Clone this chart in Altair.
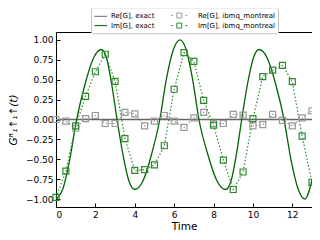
import altair as alt
import pandas as pd

# exact Im[G] curve
t_exact = [0.0, 0.35, 0.7, 1.05, 1.47, 1.9, 2.3, 2.57, 2.83, 3.1, 3.4, 3.7, 4.0,
           4.42, 4.85, 5.27, 5.6, 5.95, 6.29, 6.62, 6.94, 7.26, 7.71, 8.17, 8.62,
           8.89, 9.16, 9.43, 9.72, 10.02, 10.31, 10.73, 11.16, 11.58, 11.93, 12.29,
           12.64, 13.0]
im_exact = [-1.0, -0.87, -0.5, 0.0, 0.44, 0.77, 0.88, 0.77, 0.44, 0.0, -0.44, -0.77, -0.88,
            -0.77, -0.44, 0.0, 0.5, 0.87, 1.0, 0.87, 0.5, 0.0, -0.44, -0.77, -0.88,
            -0.77, -0.44, 0.0, 0.44, 0.77, 0.88, 0.77, 0.44, 0.0, -0.5, -0.87,
            -1.0, -0.76]
t_re_exact = [0.0, 13.0]
re_exact = [0.0, 0.0]

# ibmq_montreal measurements
t_meas = [0.0, 0.5, 1.0, 1.5, 2.0, 2.5, 3.0, 3.5, 4.0, 4.5, 5.0, 5.5, 6.0, 6.5,
          7.0, 7.5, 8.0, 8.5, 9.0, 9.5, 10.0, 10.5, 11.0, 11.5, 12.0, 12.5, 13.0]
re_meas = [0.0, -0.02, -0.11, 0.01, 0.05, -0.05, -0.05, 0.09, 0.07, -0.08, -0.02, 0.05,
           -0.02, -0.1, 0.02, 0.09, -0.05, -0.05, 0.065, 0.055, -0.08, -0.065, 0.065,
           -0.01, -0.08, 0.02, 0.11]
im_meas = [-0.98, -0.65, -0.08, 0.29, 0.6, 0.82, 0.48, -0.24, -0.64, -0.63, -0.57, -0.33,
           0.38, 0.84, 0.73, 0.24, -0.07, -0.51, -0.88, -0.66, 0.01, 0.54, 0.62, 0.68,
           0.475, -0.21, -0.79]

series_names = ["Re[G], exact", "Im[G], exact", "Re[G], ibmq_montreal", "Im[G], ibmq_montreal"]
series_colors = ["#666666", "#006400", "#999999", "#2f882f"]
legend_paths = [
    "M-1,0H1.8",
    "M-1,0H1.8",
    "M-3.3,0H-2.85M-2.05,-0.55H-0.95V0.55H-2.05ZM-0.15,0H0.3",
    "M-3.3,0H-2.85M-2.05,-0.55H-0.95V0.55H-2.05ZM-0.15,0H0.3",
]
y_ticks = [-1.0, -0.75, -0.5, -0.25, 0.0, 0.25, 0.5, 0.75, 1.0]
x_ticks = [0, 2, 4, 6, 8, 10, 12]

rows = []
for t, v in zip(t_re_exact, re_exact):
    rows.append({"t": t, "v": v, "series": series_names[0], "kind": "exact"})
for t, v in zip(t_exact, im_exact):
    rows.append({"t": t, "v": v, "series": series_names[1], "kind": "exact"})
for t, v in zip(t_meas, re_meas):
    rows.append({"t": t, "v": v, "series": series_names[2], "kind": "meas"})
for t, v in zip(t_meas, im_meas):
    rows.append({"t": t, "v": v, "series": series_names[3], "kind": "meas"})
df = pd.DataFrame(rows)

xs = alt.Scale(domain=[0, 13], nice=False, zero=False)
ys = alt.Scale(domain=[-1.1, 1.1], nice=False, zero=False)
cs = alt.Scale(domain=series_names, range=series_colors)

x_main = alt.Axis(values=x_ticks, format="d", ticks=False, tickSize=0, domain=False, grid=False,
                  labelFontSize=9, labelPadding=3, title="Time", titleFontSize=10.5,
                  titlePadding=2, orient="bottom")
y_main = alt.Axis(values=y_ticks, format=".2f", ticks=False, tickSize=0, domain=False, grid=False,
                  labelFontSize=9, labelPadding=3, title="Gᴿ₁↑₁↑(t)", titleFontSize=10.5,
                  titleFontStyle="italic", titlePadding=7, orient="left")
x_tk = alt.Axis(values=x_ticks, labels=False, domain=False, grid=False, ticks=True, tickSize=4,
                tickColor="black", tickWidth=1, offset=-4, title=None, orient="bottom")
y_tk = alt.Axis(values=y_ticks, labels=False, domain=False, grid=False, ticks=True, tickSize=4,
                tickColor="black", tickWidth=1, offset=-4, title=None, orient="left")

base = alt.Chart(df)

leg = alt.Legend(title=None, orient="none", legendX=35, legendY=-24.7, columns=2,
                 labelFontSize=7, labelFont="DejaVu Sans", symbolSize=81, symbolStrokeWidth=1,
                 strokeColor="#c4c4c4", fillColor="white", cornerRadius=2,
                 padding=3, rowPadding=0.3, columnPadding=14, labelOffset=7)
legend_layer = base.transform_filter(alt.datum.t < -100).mark_point(filled=False, opacity=1).encode(
    x=alt.X("t:Q", scale=xs, axis=None),
    y=alt.Y("v:Q", scale=ys, axis=None),
    color=alt.Color("series:N", scale=cs, legend=leg),
    shape=alt.Shape("series:N", scale=alt.Scale(domain=series_names, range=legend_paths), legend=leg),
)
exact = base.transform_filter(alt.datum.kind == "exact").mark_line(
    strokeWidth=1.3, interpolate="monotone").encode(
    x=alt.X("t:Q", scale=xs, axis=x_main),
    y=alt.Y("v:Q", scale=ys, axis=y_main),
    color=alt.Color("series:N", scale=cs),
)
dotted = base.transform_filter(alt.datum.kind == "meas").mark_line(
    strokeWidth=1.2, strokeDash=[1.5, 2]).encode(
    x=alt.X("t:Q", scale=xs, axis=x_tk),
    y=alt.Y("v:Q", scale=ys, axis=y_tk),
    color=alt.Color("series:N", scale=cs),
)
squares = base.transform_filter(alt.datum.kind == "meas").mark_point(
    shape="square", size=36, filled=False, strokeWidth=1.2, opacity=1).encode(
    x=alt.X("t:Q", scale=xs, axis=None),
    y=alt.Y("v:Q", scale=ys, axis=None),
    color=alt.Color("series:N", scale=cs),
)

chart = alt.layer(legend_layer, exact, dotted, squares).resolve_axis(
    x="independent", y="independent"
).properties(
    width=256, height=175,
    autosize=alt.AutoSizeParams(type="none"),
    padding={"left": 48, "top": 24, "right": 0, "bottom": 25},
).configure_view(stroke="black", strokeWidth=1).configure_axis(
    labelFont="DejaVu Sans", titleFont="DejaVu Sans", labelColor="black", titleColor="black",
    titleFontWeight="normal"
)

chart.save("out.html", embed_options={"renderer": "svg", "actions": False})
